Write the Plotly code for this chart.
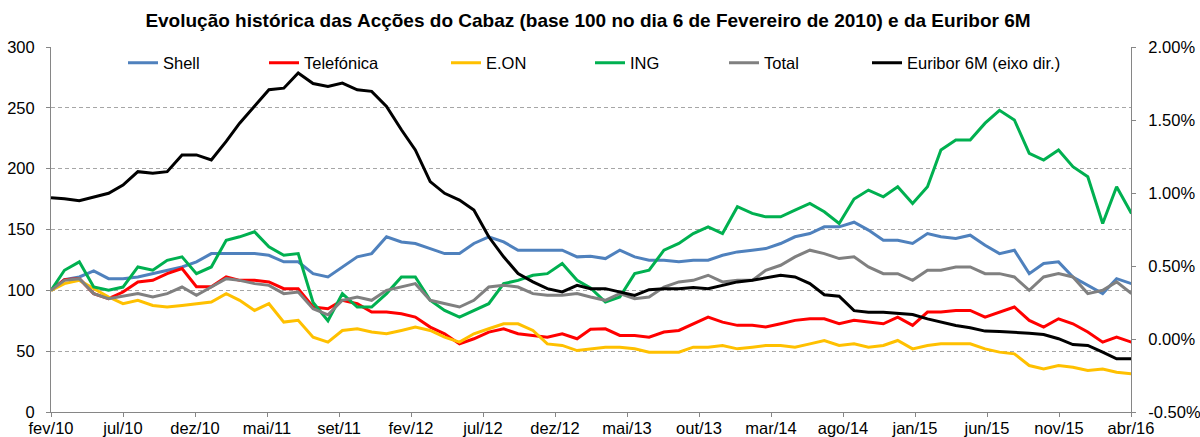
import pandas as pd
import plotly.graph_objects as go

# ---------------- data (monthly readings, 6th of each month, Feb 2010 .. Apr 2016) ----------------
start_date = "2010-02-06"
n_points = 75

shell = [100, 108.8, 111, 116, 109.6, 109.6, 111, 113.7, 116.5, 119.2, 123.4, 130.2, 130.2, 130.2, 130.2, 128.8, 123.4, 123.4, 113.7,
         111, 119.2, 127.5, 130.2, 144, 139.8, 138.5, 134.3, 130.2, 130.2, 138.5, 144, 139.8, 133, 133, 133, 133, 127.5, 128,
         126.1, 133, 127.5, 124.7, 124.7, 123.4, 124.7, 124.7, 128.8, 131.6, 133, 134.3, 138.5, 144, 146.7, 152.2, 152.2, 156,
         149.5, 141.2, 141.2, 138.5, 146.7, 144, 142.6, 145.3, 137.1, 130.2, 133, 113.7, 122, 123.4, 111, 104.1, 97.3, 109.6, 105.5]

telefonica = [100, 108.8, 109.6, 97.3, 93.1, 98.6, 106.9, 108.2, 113.7, 117.9, 103, 103, 111, 108.2, 108.2, 106.9, 101.4, 101.4, 86.3,
              84.9, 91.8, 89, 82.1, 82.1, 80.8, 78, 69.8, 64.3, 56, 60.2, 65.7, 68.4, 64.3, 62.9, 61.5, 64.3, 60.2, 68,
              68.4, 62.9, 62.9, 61.5, 65.7, 67, 72.5, 78, 73.9, 71.2, 71.2, 69.8, 72.5, 75.3, 76.6, 76.6, 72.5, 75.3,
              73.9, 72.5, 78, 71.2, 82.1, 82.1, 83.5, 83.5, 78, 82.1, 86.3, 75.3, 69.8, 76.6, 72.5, 65.7, 57.4, 61.5, 57.4]

eon = [100, 105.5, 108.2, 101.4, 94.5, 89, 91.8, 87.6, 86.3, 87.6, 89, 90.4, 97.3, 91.8, 83.5, 89, 73.9, 75.3, 61.5,
       57.4, 67, 68.4, 65.7, 64.3, 67, 69.8, 67, 61.5, 57.4, 64.3, 68.4, 72.5, 72.5, 67, 56, 54.7, 50.5, 51.9,
       53.3, 53.3, 51.9, 49.2, 49.2, 49.2, 53.3, 53.3, 54.7, 51.9, 53.3, 54.7, 54.7, 53.3, 56, 58.8, 54.7, 56,
       53.3, 54.7, 58.8, 51.9, 54.7, 56, 56, 56, 51.9, 49.2, 47.8, 38.2, 35.4, 38.2, 36.8, 34.1, 35.4, 32.7, 31.3]

ing = [100, 116.5, 123.4, 102.7, 100, 102.7, 119.2, 116.5, 124.7, 127.5, 113.7, 119.2, 141.2, 144, 148.1, 135.7, 128.8, 130.2, 90,
       75, 97.3, 86.3, 86.3, 97.3, 111, 111, 91.8, 83.5, 78, 83.5, 89, 105.5, 108.2, 112.4, 113.7, 122, 108.2, 102,
       90.4, 94.5, 113.7, 116.5, 133, 138.5, 146.7, 152.2, 146.7, 168.7, 163.2, 160.4, 160.4, 165.9, 171.4, 164.6, 154.9, 175,
       182.4, 176.9, 185.2, 171.4, 185.2, 215.4, 223.6, 223.6, 237.4, 248, 240, 212.6, 207.1, 215.4, 201.6, 193.4, 155, 185.2, 163.2]

total = [100, 108.2, 109.6, 97.3, 93.1, 95.3, 97.3, 94.5, 97.3, 102.7, 95.9, 102.7, 109.6, 108.2, 105.5, 104.1, 97.3, 98.6, 84.9,
         79.9, 91.8, 94.5, 91.8, 100, 102.7, 105.5, 91.8, 89, 86.3, 91.8, 102.7, 104.1, 102.7, 97.3, 95.9, 95.9, 97.3, 94.5,
         91.8, 97.3, 93.1, 94.5, 102.7, 106.9, 108.2, 112.4, 106.9, 108.2, 108.2, 116.5, 120.6, 127.5, 133, 130.2, 126.1, 127.5,
         119.2, 113.7, 113.7, 108.2, 116.5, 116.5, 119.2, 119.2, 113.7, 113.7, 111, 100, 111, 113.7, 111, 97.3, 100, 106.9, 97.3]

euribor = [0.968, 0.961, 0.947, 0.974, 0.998, 1.054, 1.146, 1.135, 1.146, 1.261, 1.261, 1.226, 1.353, 1.478, 1.593, 1.707, 1.718, 1.822, 1.75,
           1.730, 1.753, 1.707, 1.696, 1.593, 1.433, 1.295, 1.078, 0.998, 0.952, 0.883, 0.700, 0.563, 0.448, 0.391, 0.345, 0.322, 0.368, 0.345,
           0.345, 0.322, 0.299, 0.338, 0.345, 0.345, 0.352, 0.345, 0.368, 0.391, 0.402, 0.420, 0.437, 0.425, 0.379, 0.303, 0.293, 0.194,
           0.184, 0.184, 0.178, 0.168, 0.138, 0.116, 0.093, 0.077, 0.054, 0.052, 0.048, 0.040, 0.031, 0.002, -0.038, -0.044, -0.090, -0.136, -0.136]

tick_labels = ["fev/10", "jul/10", "dez/10", "mai/11", "set/11", "fev/12", "jul/12", "dez/12",
               "mai/13", "out/13", "mar/14", "ago/14", "jan/15", "jun/15", "nov/15", "abr/16"]
tick_step_days = 150

right_tickvals = [-0.5, 0.0, 0.5, 1.0, 1.5, 2.0]
right_ticktext = ["-0.50%", "0.00%", "0.50%", "1.00%", "1.50%", "2.00%"]

series_names = ["Shell", "Telefónica", "E.ON", "ING", "Total", "Euribor 6M (eixo dir.)"]
series_colors = ["#4F81BD", "#FF0000", "#FFC000", "#00B050", "#808080", "#000000"]

title_text = "Evolução histórica das Acções do Cabaz (base 100 no dia 6 de Fevereiro de 2010) e da Euribor 6M"

# ---------------- figure ----------------
dates = pd.date_range(start_date, periods=n_points, freq=pd.DateOffset(months=1))
t0 = pd.Timestamp(start_date)
tickvals = [t0 + pd.Timedelta(days=tick_step_days * i) for i in range(len(tick_labels))]

W, H = 1200, 437
L, R, T, B = 51, 69, 47, 25
plot_w = W - L - R
plot_h = H - T - B

FONT = "Liberation Sans, Arial, Helvetica, sans-serif"
AX = "#868686"

fig = go.Figure()
values = [shell, telefonica, eon, ing, total, euribor]
legend_ids = ["legend", "legend2", "legend3", "legend4", "legend5", "legend6"]
for i, (name, vals, col) in enumerate(zip(series_names, values, series_colors)):
    fig.add_trace(go.Scatter(
        x=dates, y=vals, name=name, mode="lines",
        line=dict(color=col, width=3),
        yaxis="y2" if i == 5 else "y",
        legend=legend_ids[i],
    ))

legend_text_px = [166, 307, 489, 633, 767, 910]
legend_y = 1 - (63 - T) / plot_h
leg_common = dict(orientation="h", yanchor="middle", xanchor="left",
                  bgcolor="rgba(0,0,0,0)", borderwidth=0,
                  font=dict(family=FONT, size=16.5, color="#000"))
layout_legends = {}
for lid, px in zip(legend_ids, legend_text_px):
    layout_legends[lid] = dict(x=(px - 43 - L) / plot_w, y=legend_y, **leg_common)

fig.update_layout(
    template="none",
    width=W, height=H,
    margin=dict(l=L, r=R, t=T, b=B, autoexpand=False),
    paper_bgcolor="white", plot_bgcolor="white",
    font=dict(family=FONT, size=16.5, color="#000"),
    title=dict(text=title_text, x=588 / W, xanchor="center", y=1 - 20 / H, yanchor="middle",
               font=dict(family=FONT, size=19.0, color="#000", weight="bold")),
    showlegend=True,
    xaxis=dict(type="date", range=[t0, tickvals[-1]], tickvals=tickvals, ticktext=tick_labels,
               ticks="outside", ticklen=4, tickcolor=AX, tickwidth=1, showline=True, linecolor=AX, linewidth=1,
               showgrid=False, zeroline=False, tickfont=dict(size=16.5, color="#000"), automargin=False,
               ticklabelstandoff=-3),
    yaxis=dict(range=[0, 300], dtick=50, tick0=0, tickmode="linear", showgrid=True, gridcolor="#A6A6A6",
               griddash="4px,3px", gridwidth=1, showline=True, linecolor=AX, linewidth=1, ticks="outside",
               ticklen=4, tickwidth=1, tickcolor=AX, zeroline=False, tickfont=dict(size=16.5, color="#000"),
               ticklabelstandoff=8, automargin=False),
    yaxis2=dict(range=[-0.5, 2.0], tickmode="array", tickvals=right_tickvals, ticktext=right_ticktext,
                overlaying="y", side="right", showgrid=False, showline=True, linecolor=AX, linewidth=1,
                ticks="outside", ticklen=4, tickwidth=1, tickcolor=AX, zeroline=False,
                tickfont=dict(size=16.5, color="#000"), ticklabelstandoff=9, automargin=False),
    **layout_legends,
)

fig.write_html("out.html", config={"displayModeBar": False},
               post_script="document.body.style.margin='0px';document.body.style.overflow='hidden';")
